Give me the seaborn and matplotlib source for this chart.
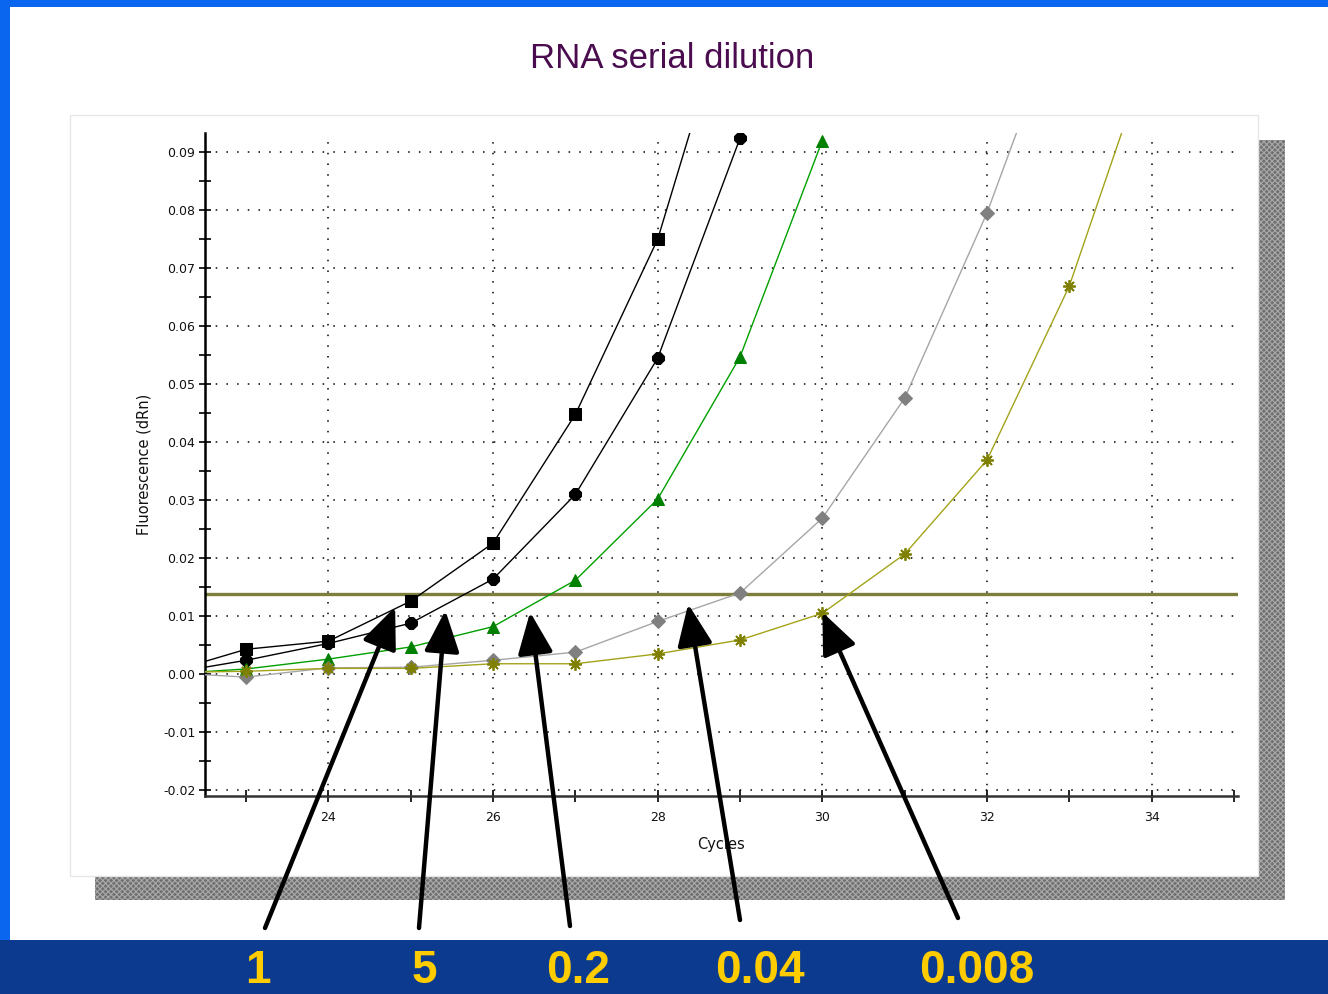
import matplotlib
matplotlib.use("Agg")
import matplotlib.pyplot as plt
from matplotlib.patches import Rectangle
import seaborn as sns
import numpy as np

# ---- data -----------------------------------------------------------------
title = "RNA serial dilution"
x_label = "Cycles"
y_label = "Fluorescence (dRn)"

dilutions = ["1", "5", "0.2", "0.04", "0.008"]

cycles_1 = [22, 23, 24, 25, 26, 27, 28, 29]
fluor_1 = [0.0001, 0.0043, 0.0057, 0.0126, 0.0226, 0.0448, 0.0750, 0.1220]

cycles_5 = [22, 23, 24, 25, 26, 27, 28, 29]
fluor_5 = [0.0000, 0.0024, 0.0053, 0.0088, 0.0164, 0.0310, 0.0545, 0.0924]

cycles_02 = [22, 23, 24, 25, 26, 27, 28, 29, 30]
fluor_02 = [0.0000, 0.0009, 0.0026, 0.0047, 0.0082, 0.0162, 0.0302, 0.0547, 0.0920]

cycles_004 = [22, 23, 24, 25, 26, 27, 28, 29, 30, 31, 32, 33]
fluor_004 = [0.0003, -0.0005, 0.0011, 0.0012, 0.0024, 0.0038, 0.0091, 0.0140,
             0.0269, 0.0476, 0.0795, 0.1180]

cycles_0008 = [22, 23, 24, 25, 26, 27, 28, 29, 30, 31, 32, 33, 34]
fluor_0008 = [0.0003, 0.0005, 0.0010, 0.0010, 0.0018, 0.0018, 0.0035, 0.0059,
              0.0105, 0.0207, 0.0369, 0.0669, 0.1084]

threshold = 0.0138

# points on each curve the dilution arrows aim at (cycle, fluorescence)
arrow_targets_x = [24.81, 25.42, 26.45, 28.37, 30.00]
arrow_targets_y = [0.0116, 0.0110, 0.0107, 0.0121, 0.0107]

x_major = [24, 26, 28, 30, 32, 34]
x_major_labels = ["24", "26", "28", "30", "32", "34"]
x_minor = [23, 25, 27, 29, 31, 33, 35]
y_major = [-0.02, -0.01, 0.00, 0.01, 0.02, 0.03, 0.04, 0.05, 0.06, 0.07, 0.08, 0.09]
y_major_labels = ["-0.02", "-0.01", "0.00", "0.01", "0.02", "0.03", "0.04",
                  "0.05", "0.06", "0.07", "0.08", "0.09"]
y_minor = [-0.015, -0.005, 0.005, 0.015, 0.025, 0.035, 0.045, 0.055, 0.065,
           0.075, 0.085]

# ---- style ----------------------------------------------------------------
sns.set_theme(style="white")
plt.rcParams["font.family"] = ["Liberation Sans", "DejaVu Sans"]
plt.rcParams["hatch.linewidth"] = 0.8

W, H = 1328, 994
fig = plt.figure(figsize=(W / 100, H / 100), dpi=100)
fig.patch.set_facecolor("#0b3a8f")


def px_rect(x0, y0, x1, y1, **kw):
    """Rectangle given in image pixels (origin top-left)."""
    r = Rectangle((x0 / W, 1 - y1 / H), (x1 - x0) / W, (y1 - y0) / H,
                  transform=fig.transFigure, **kw)
    fig.patches.append(r)
    return r


# slide frame: bright blue border, white page, dark blue footer
px_rect(0, 0, W, 940, facecolor="#0a66ee", edgecolor="none", zorder=-20)
px_rect(10, 7, W, 940, facecolor="white", edgecolor="none", zorder=-19)
# chart window with its dithered drop shadow
px_rect(95, 140, 1285, 900, facecolor="#707070", edgecolor="#a9a9a9",
        linewidth=0, hatch="xxxxxx", zorder=-18)
px_rect(70, 115, 1258, 876, facecolor="white", edgecolor="#e6e6e6",
        linewidth=1.0, zorder=-17)

# title
fig.text(672 / W, 1 - 59 / H, title, ha="center", va="center",
         fontsize=25, color="#4a0c4e")

# plot area
ax = fig.add_axes([205 / W, 1 - 796 / H, (1238 - 205) / W, (796 - 133) / H])
ax.set_facecolor("none")
ax.set_xlim(22.5, 35.05)
ax.set_ylim(-0.0210, 0.0933)

# dotted grid
for gx in x_major:
    ax.axvline(gx, color="black", lw=1.1, ls=(0, (1, 6.0)), zorder=1)
for gy in y_major:
    ax.axhline(gy, color="black", lw=1.1, ls=(0, (1, 6.0)), zorder=1)

# threshold
ax.axhline(threshold, color="#7d7d3c", lw=2.4, zorder=2)

series = [
    (cycles_1, fluor_1, dict(color="#000000", marker="s", markersize=8,
                             markerfacecolor="black", markeredgecolor="black")),
    (cycles_5, fluor_5, dict(color="#000000", marker="8", markersize=9,
                             markerfacecolor="black", markeredgecolor="black")),
    (cycles_02, fluor_02, dict(color="#00a000", marker="^", markersize=8.5,
                               markerfacecolor="#008000", markeredgecolor="#008000")),
    (cycles_004, fluor_004, dict(color="#a6a6a6", marker="D", markersize=7,
                                 markerfacecolor="#808080", markeredgecolor="#808080")),
    (cycles_0008, fluor_0008, dict(color="#a3a31a", marker=(8, 2, 0), markersize=9,
                                   markerfacecolor="#808000", markeredgecolor="#808000",
                                   markeredgewidth=1.3)),
]
for xs, ys, kw in series:
    sns.lineplot(x=xs, y=ys, ax=ax, lw=1.0, sort=False, zorder=3, **kw)

# axes decoration
for side in ("top", "right"):
    ax.spines[side].set_visible(False)
ax.spines["left"].set_color("black")
ax.spines["left"].set_linewidth(1.8)
ax.spines["bottom"].set_color("#333333")
ax.spines["bottom"].set_linewidth(1.8)

ax.set_xticks(x_major)
ax.set_xticklabels(x_major_labels)
ax.set_xticks(x_minor, minor=True)
ax.set_yticks(y_major)
ax.set_yticklabels(y_major_labels)
ax.set_yticks(y_minor, minor=True)
ax.tick_params(which="both", direction="inout", length=8, width=1.2,
               color="black", labelsize=9, labelcolor="#111111")
ax.tick_params(axis="x", which="both", bottom=True, pad=7)
ax.tick_params(axis="y", which="both", left=True, pad=3)
for lab in ax.get_xticklabels() + ax.get_yticklabels():
    lab.set_family("DejaVu Sans")

ax.set_xlabel(x_label, fontsize=10.5, color="#111111", labelpad=9,
              family="DejaVu Sans")
ax.set_ylabel(y_label, fontsize=10.5, color="#111111", labelpad=8,
              family="DejaVu Sans")

# dilution labels in the footer
label_x = [258, 424, 578, 760, 977]
for lx, txt in zip(label_x, dilutions):
    fig.text(lx / W, 1 / H, txt, ha="center", va="bottom",
             fontsize=33, fontweight="bold", color="#ffcc00",
             family=["Liberation Sans Narrow", "Liberation Sans"])

# arrows from each dilution to its threshold crossing
arrow_tails = [(265, 928), (419, 928), (570, 926), (740, 920), (958, 918)]
for (tx, ty), hx, hy in zip(arrow_tails, arrow_targets_x, arrow_targets_y):
    ax.annotate("", xy=(hx, hy), xycoords="data",
                xytext=(tx, H - ty), textcoords="figure pixels",
                arrowprops=dict(arrowstyle="-|>,head_length=0.85,head_width=0.36",
                                mutation_scale=30, lw=3.2, color="black",
                                shrinkA=0, shrinkB=0),
                annotation_clip=False, zorder=6)

fig.savefig("out.png", dpi=100, facecolor=fig.get_facecolor())
